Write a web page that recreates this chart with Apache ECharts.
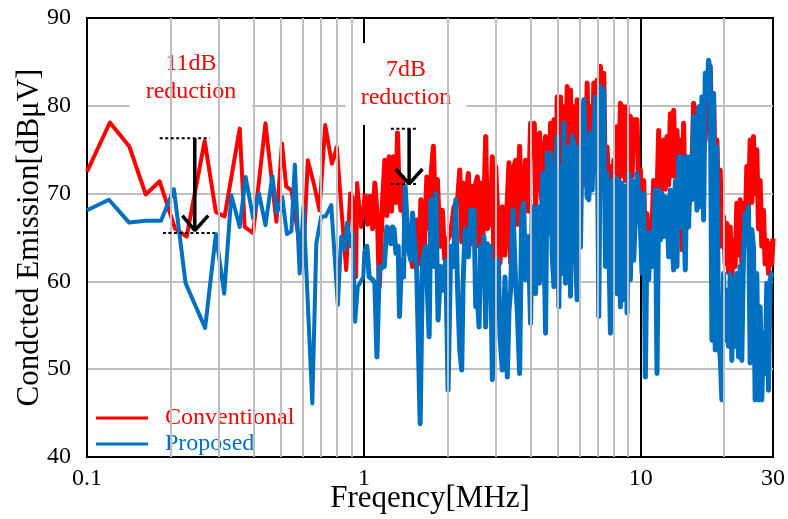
<!DOCTYPE html>
<html>
<head>
<meta charset="utf-8">
<script src="https://cdn.jsdelivr.net/npm/echarts@6/dist/echarts.min.js"></script>
<style>html,body{margin:0;padding:0;background:#fff;}#chart{width:788px;height:519px;}</style>
</head>
<body>
<div id="chart"></div>
<script>
// ---- Data (frequency in MHz, level in dBμV) ----
const conventionalMHz = [
0.1,0.121,0.142,0.163,0.183,0.208,0.229,0.266,0.292,0.314,0.356,0.371,0.398,0.441,0.483,0.506,0.524,0.547,0.602,0.627,0.663,0.691,0.725,0.766,0.798,0.828,0.863,0.892,0.911,0.937,0.945,0.977,
1.008,1.031,1.054,1.075,1.095,1.120,1.136,1.168,1.190,1.210,1.234,1.258,1.279,1.304,1.322,1.340,1.359,1.378,1.405,1.437,1.469,1.498,1.518,1.552,1.583,1.605,1.650,1.687,1.720,1.753,1.782,1.812,1.842,1.883,1.920,1.958,2.002,2.058,2.115,
2.175,2.218,2.255,2.280,2.318,2.350,2.383,2.430,2.463,2.498,2.533,2.568,2.604,2.640,2.677,2.714,2.752,2.790,2.829,2.868,2.908,2.949,2.990,3.057,3.100,3.160,3.231,3.294,3.340,3.386,3.453,3.530,3.579,3.649,3.710,3.772,3.835,3.922,3.997,4.053,4.122,4.167,4.237,4.308,4.380,4.429,4.527,
4.590,4.654,4.719,4.785,4.851,4.919,4.987,5.057,5.127,5.198,5.271,5.345,5.419,5.494,5.571,5.648,5.727,5.807,5.888,5.970,6.053,6.137,6.223,6.309,6.397,6.486,6.576,6.668,6.761,6.855,6.951,7.047,7.145,7.245,7.346,7.448,7.552,7.657,7.764,7.872,7.982,8.092,8.205,8.319,8.435,8.553,8.672,8.792,8.915,9.039,9.165,9.293,9.422,
9.687,9.822,9.959,10.098,10.238,10.381,10.526,10.672,10.821,10.971,11.124,11.279,11.436,11.596,11.757,11.921,12.087,12.255,12.426,12.599,12.775,12.952,13.133,13.315,13.501,13.689,13.879,14.073,14.269,14.468,14.669,14.873,15.080,15.290,15.503,15.719,15.938,16.160,16.385,16.613,16.845,17.079,17.317,17.557,17.802,18.050,18.301,18.556,18.815,19.077,19.342,19.612,19.885,20.162,20.442,20.727,21.016,21.308,21.604,21.905,22.211,22.520,22.834,23.151,23.474,23.801,24.132,24.469,24.809,25.155,25.505,25.860,26.220,26.585,26.956,27.331,27.711,28.097,28.489,28.885,29.288,29.696,30
];
const conventionalDb = [
72.5,78.1,75.4,69.9,71.4,66.0,65.1,76.0,67.9,67.4,77.4,66.2,65.5,78.0,66.8,75.7,70.8,70.4,61.7,73.8,70.8,68.1,77.8,73.4,75.3,68.5,61.3,70.0,69.6,60.5,71.2,66.2,
70.0,66.5,69.7,66.0,71.2,67.0,59.4,69.3,73.8,67.5,74.2,68.0,74.2,69.0,76.9,70.0,68.1,71.9,66.0,66.2,64.0,61.7,65.5,67.0,62.0,69.3,63.5,71.9,66.0,72.7,75.4,67.0,71.6,64.0,68.1,62.5,64.7,65.5,68.5,
68.9,72.7,64.5,71.2,65.0,70.4,72.3,64.3,70.8,65.0,71.2,71.9,64.0,71.2,63.5,69.3,76.5,66.0,66.6,67.4,74.2,61.3,73.1,66.0,62.1,68.5,63.0,69.3,73.5,62.1,72.7,73.8,66.5,75.4,67.0,71.2,73.8,68.0,78.0,76.5,78.0,68.0,75.0,76.9,69.5,73.5,76.5,
72.3,66.5,78.0,69.0,78.4,68.0,81.0,70.0,81.0,69.0,79.9,70.5,82.2,71.0,81.8,70.0,79.9,69.5,80.7,70.5,78.4,72.0,79.5,71.0,82.6,72.5,79.9,71.5,82.6,73.0,82.9,72.0,84.5,73.0,83.7,70.0,75.3,69.0,73.1,68.0,73.8,70.0,77.6,71.0,80.3,72.0,79.9,71.5,79.9,70.0,78.8,72.0,78.4,
78.4,70.0,72.7,66.0,71.5,64.0,67.7,63.0,65.5,66.0,71.5,66.0,69.6,77.2,70.0,70.8,76.1,70.5,76.5,71.0,79.1,72.0,79.5,72.0,77.2,71.0,76.1,63.6,78.0,66.2,71.9,68.0,71.2,73.0,80.3,74.0,79.5,74.0,79.9,75.0,81.0,76.0,82.9,77.0,84.5,76.0,81.4,72.0,76.1,68.0,72.7,64.0,67.4,62.0,66.6,61.0,66.2,60.2,64.7,61.7,68.9,63.0,69.3,62.0,68.9,65.9,73.1,68.0,76.1,69.0,76.5,70.0,75.0,66.0,71.5,64.0,68.1,62.0,64.7,60.9,64.3,62.0,64.9
];

const proposedMHz = [
0.1,0.120,0.142,0.163,0.185,0.206,0.227,0.267,0.292,0.313,0.332,0.356,0.374,0.398,0.418,0.441,0.467,0.485,0.507,0.527,0.547,0.563,0.586,0.605,0.651,0.673,0.701,0.727,0.762,0.805,0.828,0.851,0.870,0.892,0.911,0.930,0.950,0.995,
1.003,1.025,1.045,1.075,1.095,1.114,1.136,1.158,1.184,1.210,1.234,1.251,1.268,1.286,1.304,1.330,1.344,1.367,1.390,1.409,1.437,1.457,1.477,1.498,1.527,1.552,1.596,1.627,1.673,1.696,1.720,1.744,1.768,1.792,1.817,1.852,1.894,1.936,1.975,2.013,2.058,2.104,2.145,
2.175,2.218,2.255,2.280,2.318,2.350,2.383,2.430,2.463,2.498,2.533,2.568,2.604,2.640,2.677,2.714,2.752,2.790,2.829,2.868,2.908,2.949,2.990,3.057,3.100,3.160,3.231,3.294,3.340,3.386,3.453,3.530,3.579,3.649,3.710,3.772,3.835,3.922,3.997,4.053,4.122,4.167,4.237,4.308,4.380,4.429,4.527,
4.590,4.654,4.719,4.785,4.851,4.919,4.987,5.057,5.127,5.198,5.271,5.345,5.419,5.494,5.571,5.648,5.727,5.807,5.888,5.970,6.053,6.137,6.223,6.309,6.397,6.486,6.576,6.668,6.761,6.855,6.951,7.047,7.145,7.245,7.346,7.448,7.552,7.657,7.764,7.872,7.982,8.092,8.205,8.319,8.435,8.553,8.672,8.792,8.915,9.039,9.165,9.293,9.422,
9.687,9.822,9.959,10.098,10.238,10.381,10.526,10.672,10.821,10.971,11.124,11.279,11.436,11.596,11.757,11.921,12.087,12.255,12.426,12.599,12.775,12.952,13.133,13.315,13.501,13.689,13.879,14.073,14.269,14.468,14.669,14.873,15.080,15.290,15.503,15.719,15.938,16.160,16.385,16.613,16.845,17.079,17.317,17.557,17.802,18.050,18.301,18.556,18.815,19.077,19.342,19.612,19.885,20.162,20.442,20.727,21.016,21.308,21.604,21.905,22.211,22.520,22.834,23.151,23.474,23.801,24.132,24.469,24.809,25.155,25.505,25.860,26.220,26.585,26.956,27.331,27.711,28.097,28.489,28.885,29.288,29.696,30
];
const proposedDb = [
68.1,69.3,66.7,66.9,66.9,70.5,59.8,54.7,65.4,58.6,69.8,66.2,71.9,67.2,70.0,66.4,72.0,67.8,69.6,65.4,65.7,73.3,60.9,68.5,46.1,64.3,67.4,67.4,68.7,57.3,65.1,63.6,66.7,64.0,65.5,55.4,59.4,60.5,
63.2,64.0,60.5,60.2,59.8,51.4,61.7,61.5,61.7,66.2,65.9,64.3,66.2,65.9,63.2,64.0,56.0,62.4,60.5,70.8,65.5,63.2,62.4,67.8,64.0,60.9,43.8,62.4,64.0,58.6,53.7,69.3,69.3,61.7,70.0,55.6,61.7,59.0,62.4,47.6,64.0,61.7,69.3,
59.8,52.2,49.9,59.8,65.9,65.9,62.8,68.1,65.1,68.1,57.1,58.3,54.8,64.0,60.9,65.1,54.8,64.3,61.7,64.0,48.8,57.5,62.4,62.4,53.7,49.9,60.5,49.1,56.7,59.0,68.1,59.8,56.7,49.5,67.4,68.9,60.2,65.1,55.2,68.5,67.4,58.6,68.5,59.8,68.1,72.3,54.1,
74.6,65.5,74.6,63.2,59.4,72.3,76.5,57.1,73.1,60.9,78.0,59.8,75.3,74.2,58.3,76.5,75.7,63.2,57.9,75.3,63.9,77.2,80.7,80.7,69.6,69.3,76.9,70.4,76.9,81.0,80.7,56.0,82.2,79.9,81.8,61.7,72.3,64.7,54.1,71.5,60.9,71.9,58.6,71.5,57.1,71.2,57.9,70.8,56.4,72.3,60.2,71.5,62.4,
72.3,70.0,66.2,60.9,70.0,49.1,65.5,60.2,65.5,61.7,65.5,70.4,49.5,70.4,64.7,70.0,65.1,69.6,68.5,62.8,70.4,64.3,61.3,71.5,61.7,74.2,66.2,74.2,68.5,61.3,74.2,66.2,74.2,69.3,78.8,78.0,68.1,79.9,68.5,81.0,67.0,83.7,81.0,85.2,84.1,53.3,81.4,52.2,75.3,53.3,51.4,46.5,60.9,53.3,59.0,52.6,60.9,51.0,60.2,52.6,60.9,51.4,61.7,51.0,63.2,67.7,66.2,68.5,50.7,65.9,63.9,46.5,60.9,46.5,57.1,46.5,54.1,49.5,59.8,47.6,60.2,60.9,61.0
];

// axis ticks / grid
const xTickLabels = [0.1, 1, 10, 30];
const yTicks = [40, 50, 60, 70, 80, 90];
const minorGridMHz = [0.2,0.3,0.4,0.5,0.6,0.7,0.8,0.9,2,3,4,5,6,7,8,9,20];
const denseFromMHz = 1.0; // above this the measured trace is densely sampled

// annotations (MHz, dBμV)
const arrow11Shaft = [[0.245, 76.3], [0.245, 66.0]];
const arrow11Head = [[0.221, 67.5], [0.245, 65.8], [0.274, 67.5]];
const dash11Top = [[0.183, 76.3], [0.277, 76.3]];
const dash11Bottom = [[0.188, 65.5], [0.289, 65.5]];
const arrow7Shaft = [[1.456, 77.4], [1.456, 71.3]];
const arrow7Head = [[1.304, 72.8], [1.456, 71.1], [1.627, 72.8]];
const dash7Top = [[1.251, 77.4], [1.539, 77.4]];
const dash7Bottom = [[1.253, 71.1], [1.550, 71.1]];

const seriesNames = ['Conventional', 'Proposed'];
const RED = '#ff0000', BLUE = '#0070c0';
const FONT = '"Liberation Serif", "DejaVu Serif", serif';

const zip = (xs, ys) => xs.map((x, i) => [x, ys[i]]);
function splitAt(pairs, f) {
  const k = pairs.findIndex(p => p[0] >= f);
  return [pairs.slice(0, k + 1), pairs.slice(k)];
}
const [convLow, convHigh] = splitAt(zip(conventionalMHz, conventionalDb), denseFromMHz);
const [propLow, propHigh] = splitAt(zip(proposedMHz, proposedDb), denseFromMHz);

const chart = echarts.init(document.getElementById('chart'), null, {renderer: 'canvas'});

function annoLine(data, dashed, width) {
  return {
    type: 'line', data: data, z: 6, symbol: 'none', silent: true,
    lineStyle: {color: '#000', width: width, type: dashed ? [3, 2.5] : 'solid', cap: 'butt'},
    animation: false
  };
}
function trace(name, data, color, width, z) {
  return {
    name: name, type: 'line', data: data, z: z, symbol: 'none', showSymbol: false, color: color,
    lineStyle: {color: color, width: width, join: 'round'}
  };
}

const option = {
  animation: false,
  backgroundColor: '#ffffff',
  grid: {left: 87, right: 15, top: 18, bottom: 62, show: true, borderColor: '#000', borderWidth: 2,
    backgroundColor: 'transparent', outerBoundsMode: 'none', containLabel: false},
  legend: {
    orient: 'vertical', left: 96, top: 406, padding: 0, itemGap: 2,
    itemWidth: 52, itemHeight: 3, icon: 'rect',
    data: [
      {name: seriesNames[0], textStyle: {color: RED}},
      {name: seriesNames[1], textStyle: {color: BLUE}}
    ],
    textStyle: {fontFamily: FONT, fontSize: 24, lineHeight: 21, padding: [0, 0, 0, 12]}
  },
  xAxis: {
    type: 'log', logBase: 10, min: 0.1, max: 30,
    name: 'Freqency[MHz]', nameLocation: 'middle', nameGap: 42, nameMoveOverlap: false,
    nameTextStyle: {fontFamily: FONT, fontSize: 31, color: '#000', verticalAlign: 'middle'},
    axisLine: {show: true, onZero: false, lineStyle: {color: '#000', width: 2}},
    axisTick: {show: false, customValues: xTickLabels},
    axisLabel: {fontFamily: FONT, fontSize: 24, color: '#000', margin: 10, customValues: xTickLabels,
      formatter: v => String(parseFloat(Number(v).toPrecision(3)))},
    splitLine: {show: true, showMinLine: false, showMaxLine: false, lineStyle: {color: '#000', width: 2}}
  },
  yAxis: {
    type: 'value', min: yTicks[0], max: yTicks[yTicks.length - 1], interval: 10,
    name: 'Condcted Emission[dBμV]', nameLocation: 'middle', nameGap: 42, nameMoveOverlap: false,
    nameTextStyle: {fontFamily: FONT, fontSize: 31, color: '#000'},
    axisLine: {show: true, lineStyle: {color: '#000', width: 2}},
    axisTick: {show: false},
    axisLabel: {fontFamily: FONT, fontSize: 24, color: '#000', margin: 16},
    splitLine: {show: true, showMinLine: false, showMaxLine: false, lineStyle: {color: '#bfbfbf', width: 2}}
  },
  graphic: [
    {type: 'text', x: 191, y: 78, z: 2, silent: true,
      style: {text: '11dB\nreduction', font: '24px ' + FONT, fill: RED, align: 'center', verticalAlign: 'middle',
        lineHeight: 28, backgroundColor: '#fff', padding: [10, 16, 6, 16]}},
    {type: 'text', x: 406, y: 84, z: 2, silent: true,
      style: {text: '7dB\nreduction', font: '24px ' + FONT, fill: RED, align: 'center', verticalAlign: 'middle',
        lineHeight: 28, backgroundColor: '#fff', padding: [13, 15, 13, 15]}}
  ],
  series: [
    {
      name: '_grid', type: 'line', data: [], z: 1, silent: true, symbol: 'none',
      markLine: {
        silent: true, symbol: ['none', 'none'], label: {show: false}, animation: false,
        lineStyle: {color: '#bfbfbf', width: 2, type: 'solid'},
        data: minorGridMHz.map(v => ({xAxis: v}))
      }
    },
    trace(seriesNames[0], convLow, RED, 4, 3),
    trace(seriesNames[0], convHigh, RED, 5, 3),
    trace(seriesNames[1], propLow, BLUE, 4, 4),
    trace(seriesNames[1], propHigh, BLUE, 5, 4),
    annoLine(dash11Top, true, 2), annoLine(dash11Bottom, true, 2),
    annoLine(arrow11Shaft, false, 3.5), annoLine(arrow11Head, false, 3.5),
    annoLine(dash7Top, true, 2), annoLine(dash7Bottom, true, 2),
    annoLine(arrow7Shaft, false, 3.5), annoLine(arrow7Head, false, 3.5)
  ]
};
chart.setOption(option);
</script>
</body>
</html>
